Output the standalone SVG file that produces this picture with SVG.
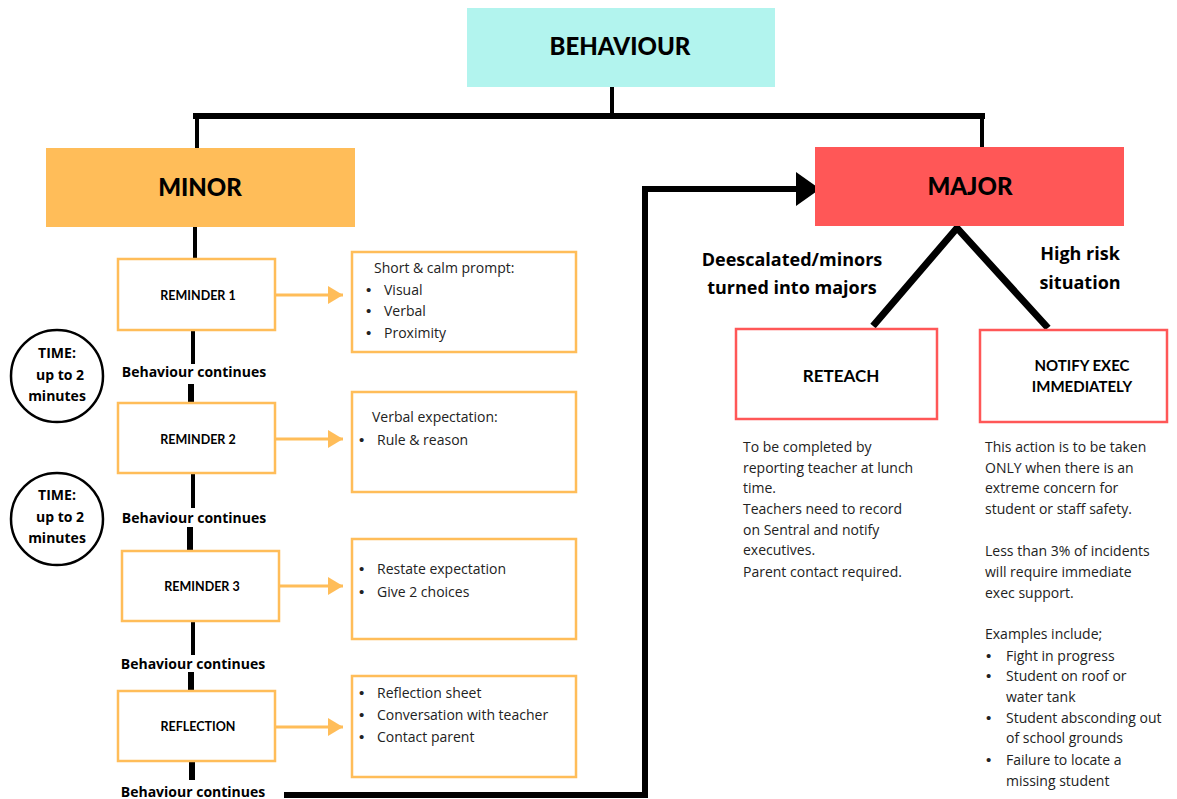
<svg xmlns="http://www.w3.org/2000/svg" width="1177" height="799" viewBox="0 0 1177 799">
<style>
.h{font-family:Lato,"Liberation Sans",sans-serif;font-weight:900;fill:#000;text-anchor:middle}
.c{font-family:Lato,"Liberation Sans",sans-serif;font-weight:bold;fill:#000;text-anchor:middle}
.b{font-family:"Open Sans","Liberation Sans",sans-serif;font-weight:bold;fill:#000;text-anchor:middle}
.body{font-family:"Open Sans","Liberation Sans",sans-serif;font-size:14px;fill:#222}
.bu{font-family:"Liberation Sans",sans-serif;font-size:15px;fill:#222}
.ob{fill:#fff;stroke:#ffbd59;stroke-width:2.5}
.rb{fill:#fff;stroke:#ff5757;stroke-width:2.5}
.k{stroke:#000;fill:none}
.oa{stroke:#ffbd59;stroke-width:3;fill:none}
</style>
<defs>
<marker id="oh" markerUnits="userSpaceOnUse" markerWidth="16" markerHeight="20" refX="15" refY="9" orient="auto"><path d="M0,0 L15,9 L0,18 z" fill="#ffbd59"/></marker>
<marker id="kh" markerUnits="userSpaceOnUse" markerWidth="26" markerHeight="36" refX="24" refY="17" orient="auto"><path d="M0,0 L24,17 L0,34 z" fill="#000"/></marker>
</defs>
<rect width="1177" height="799" fill="#fff"/>

<g id="connectors">
<path class="k" stroke-width="4" d="M612,87 V116"/>
<path class="k" stroke-width="6" d="M196,119 V116 H982 V119"/>
<path class="k" stroke-width="4" d="M197,116 V148"/>
<path class="k" stroke-width="4" d="M982,116 V148"/>
<path class="k" stroke-width="4" d="M195,227 V259"/>
<path class="k" stroke-width="4" d="M193,330 V364"/>
<path class="k" stroke-width="6" d="M191,384 V403"/>
<path class="k" stroke-width="4" d="M193,473 V508"/>
<path class="k" stroke-width="6" d="M190,527 V551"/>
<path class="k" stroke-width="4" d="M193,621 V655"/>
<path class="k" stroke-width="6" d="M191,672 V691"/>
<path class="k" stroke-width="6" d="M192,761 V780"/>
<path class="k" stroke-width="6" d="M284,795 H645 V189 H820" marker-end="url(#kh)"/>
<path class="k" stroke-width="7" d="M873,326 L957,228 L1048,328"/>
<line class="oa" x1="275" y1="295" x2="343" y2="295" marker-end="url(#oh)"/>
<line class="oa" x1="275" y1="439" x2="343" y2="439" marker-end="url(#oh)"/>
<line class="oa" x1="279" y1="586" x2="343" y2="586" marker-end="url(#oh)"/>
<line class="oa" x1="275" y1="727" x2="343" y2="727" marker-end="url(#oh)"/>
</g>

<g id="behaviour">
<rect x="467" y="8" width="308" height="79" fill="#b2f4ee"/>
<text class="h" x="620" y="55" font-size="24">BEHAVIOUR</text>
</g>

<g id="minor">
<rect x="46" y="148" width="309" height="79" fill="#ffbd59"/>
<text class="h" x="200" y="196" font-size="24">MINOR</text>
</g>

<g id="major">
<rect x="815" y="147" width="309" height="79" fill="#ff5757"/>
<text class="h" x="970" y="195" font-size="24">MAJOR</text>
</g>

<g id="reminder1">
<rect class="ob" x="118" y="259" width="157" height="71"/>
<text class="c" x="198" y="300" font-size="12.5">REMINDER 1</text>
</g>
<g id="reminder2">
<rect class="ob" x="118" y="403" width="157" height="70"/>
<text class="c" x="198" y="444" font-size="12.5">REMINDER 2</text>
</g>
<g id="reminder3">
<rect class="ob" x="122" y="551" width="157" height="70"/>
<text class="c" x="202" y="591" font-size="12.5">REMINDER 3</text>
</g>
<g id="reflection">
<rect class="ob" x="118" y="691" width="157" height="70"/>
<text class="c" x="198" y="731" font-size="12.5">REFLECTION</text>
</g>

<g id="detail1">
<rect class="ob" x="352" y="252" width="224" height="100"/>
<text class="body" x="374" y="273">Short &amp; calm prompt:</text>
<text class="bu" x="366" y="295">•</text><text class="body" x="384" y="295">Visual</text>
<text class="bu" x="366" y="316">•</text><text class="body" x="384" y="316">Verbal</text>
<text class="bu" x="366" y="338">•</text><text class="body" x="384" y="338">Proximity</text>
</g>
<g id="detail2">
<rect class="ob" x="352" y="392" width="224" height="100"/>
<text class="body" x="372" y="422">Verbal expectation:</text>
<text class="bu" x="359" y="445">•</text><text class="body" x="377" y="445">Rule &amp; reason</text>
</g>
<g id="detail3">
<rect class="ob" x="352" y="539" width="224" height="100"/>
<text class="bu" x="359" y="574">•</text><text class="body" x="377" y="574">Restate expectation</text>
<text class="bu" x="359" y="597">•</text><text class="body" x="377" y="597">Give 2 choices</text>
</g>
<g id="detail4">
<rect class="ob" x="352" y="676" width="224" height="101"/>
<text class="bu" x="359" y="698">•</text><text class="body" x="377" y="698">Reflection sheet</text>
<text class="bu" x="359" y="720">•</text><text class="body" x="377" y="720">Conversation with teacher</text>
<text class="bu" x="359" y="742">•</text><text class="body" x="377" y="742">Contact parent</text>
</g>

<g id="continues-labels">
<text class="b" x="194" y="377" font-size="14">Behaviour continues</text>
<text class="b" x="194" y="523" font-size="14">Behaviour continues</text>
<text class="b" x="193" y="669" font-size="14">Behaviour continues</text>
<text class="b" x="193" y="797" font-size="14">Behaviour continues</text>
</g>

<g id="time1">
<circle cx="57" cy="376" r="46" fill="#fff" stroke="#000" stroke-width="2.5"/>
<text class="b" x="57" y="358" font-size="14">TIME:</text>
<text class="b" x="60" y="380" font-size="14">up to 2</text>
<text class="b" x="57" y="401" font-size="14">minutes</text>
</g>
<g id="time2">
<circle cx="57" cy="519" r="46" fill="#fff" stroke="#000" stroke-width="2.5"/>
<text class="b" x="57" y="500" font-size="14">TIME:</text>
<text class="b" x="60" y="522" font-size="14">up to 2</text>
<text class="b" x="57" y="543" font-size="14">minutes</text>
</g>

<g id="major-labels">
<text class="b" x="792" y="266" font-size="18">Deescalated/minors</text>
<text class="b" x="792" y="294" font-size="18">turned into majors</text>
<text class="b" x="1080" y="260" font-size="18">High risk</text>
<text class="b" x="1080" y="289" font-size="18">situation</text>
</g>

<g id="reteach">
<rect class="rb" x="736" y="329" width="201" height="90"/>
<text class="c" x="841" y="382" font-size="17">RETEACH</text>
</g>
<g id="notify">
<rect class="rb" x="980" y="330" width="187" height="92"/>
<text class="c" x="1082" y="371" font-size="15">NOTIFY EXEC</text>
<text class="c" x="1082" y="392" font-size="15">IMMEDIATELY</text>
</g>

<g id="reteach-text">
<text class="body" x="743" y="452">To be completed by</text>
<text class="body" x="743" y="473">reporting teacher at lunch</text>
<text class="body" x="743" y="493">time.</text>
<text class="body" x="743" y="514">Teachers need to record</text>
<text class="body" x="743" y="535">on Sentral and notify</text>
<text class="body" x="743" y="555">executives.</text>
<text class="body" x="743" y="577">Parent contact required.</text>
</g>
<g id="notify-text">
<text class="body" x="985" y="452">This action is to be taken</text>
<text class="body" x="985" y="473">ONLY when there is an</text>
<text class="body" x="985" y="493">extreme concern for</text>
<text class="body" x="985" y="514">student or staff safety.</text>
<text class="body" x="985" y="556">Less than 3% of incidents</text>
<text class="body" x="985" y="577">will require immediate</text>
<text class="body" x="985" y="598">exec support.</text>
<text class="body" x="985" y="639">Examples include;</text>
<text class="bu" x="986" y="661">•</text><text class="body" x="1006" y="661">Fight in progress</text>
<text class="bu" x="986" y="681">•</text><text class="body" x="1006" y="681">Student on roof or</text>
<text class="body" x="1006" y="702">water tank</text>
<text class="bu" x="986" y="723">•</text><text class="body" x="1006" y="723">Student absconding out</text>
<text class="body" x="1006" y="743">of school grounds</text>
<text class="bu" x="986" y="765">•</text><text class="body" x="1006" y="765">Failure to locate a</text>
<text class="body" x="1006" y="786">missing student</text>
</g>
</svg>
